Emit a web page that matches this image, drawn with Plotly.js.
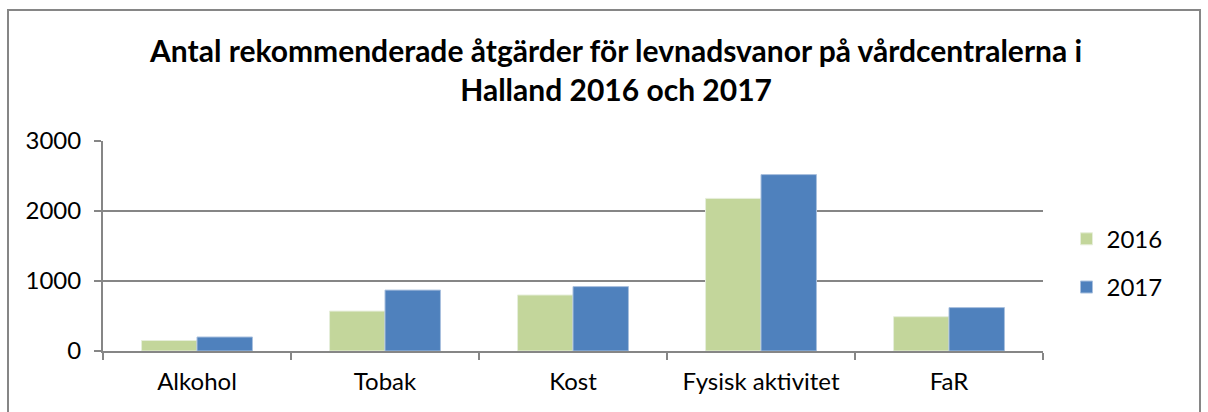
<!DOCTYPE html>
<html>
<head>
<meta charset="utf-8">
<script src="https://cdn.plot.ly/plotly-3.0.1.min.js"></script>
<style>
html,body{margin:0;padding:0;background:#fff;}
#chart{width:1208px;height:412px;}
</style>
</head>
<body>
<div id="chart"></div>
<script>
const categories = ["Alkohol", "Tobak", "Kost", "Fysisk aktivitet", "FaR"];
const values2016 = [150, 570, 800, 2180, 490];
const values2017 = [200, 870, 920, 2520, 620];
const seriesNames = ["2016", "2017"];
const titleText = "Antal rekommenderade åtgärder för levnadsvanor på vårdcentralerna i<br>Halland 2016 och 2017";

const fontFam = "Lato, 'Open Sans', sans-serif";

const traces = [
  {type: "bar", name: seriesNames[0], x: categories, y: values2016, legendgroup: "a",
   marker: {color: "#C3D69B", line: {color: "#E6EEDA", width: 1}}},
  {type: "bar", name: seriesNames[1], x: categories, y: values2017, legendgroup: "b",
   marker: {color: "#4F81BD", line: {color: "#A9C0DE", width: 1}}}
];

const L = 103, R = 1043, T = 141, B = 351, W = 1208, H = 412;
const pw = R - L, ph = B - T;

const layout = {
  width: W, height: H,
  margin: {l: L, r: W - R, t: T, b: H - B, pad: 0},
  paper_bgcolor: "#fff", plot_bgcolor: "#fff",
  barmode: "group", bargap: 0.41, bargroupgap: 0,
  showlegend: true,
  legend: {x: 1.025, y: 0.418, xanchor: "left", yanchor: "middle",
           font: {family: fontFam, size: 24, color: "#000"},
           traceorder: "grouped", tracegroupgap: 14, itemwidth: 30, bgcolor: "rgba(0,0,0,0)"},
  title: {text: titleText, x: 0.51, xref: "container", xanchor: "center",
          y: 0.85, yref: "container", yanchor: "bottom",
          font: {family: fontFam, size: 30, color: "#000", weight: "bold"}},
  font: {family: fontFam, color: "#000"},
  xaxis: {type: "category", showline: true, linecolor: "#868686", linewidth: 2,
          ticks: "outside", tickson: "boundaries", ticklen: 7, tickcolor: "#868686", tickwidth: 2,
          tickfont: {family: fontFam, size: 24, color: "#000"}, showgrid: false,
          ticklabelstandoff: 8, fixedrange: true},
  yaxis: {range: [0, 3000], dtick: 1000, tick0: 0, showline: true, linecolor: "#868686", linewidth: 2,
          ticks: "outside", ticklen: 7, tickcolor: "#868686", tickwidth: 2,
          showgrid: true, gridcolor: "#868686", gridwidth: 2, zeroline: false,
          tickfont: {family: fontFam, size: 24, color: "#000"}, ticklabelstandoff: 8,
          fixedrange: true},
  shapes: [{type: "rect", xref: "paper", yref: "paper",
            x0: (8 - L) / pw, x1: (1200 - L) / pw,
            y0: (B - 430) / ph, y1: (B - 10) / ph,
            line: {color: "#868686", width: 2}, fillcolor: "rgba(0,0,0,0)", layer: "below"}]
};

Plotly.newPlot("chart", traces, layout, {displayModeBar: false, staticPlot: true});
</script>
</body>
</html>
